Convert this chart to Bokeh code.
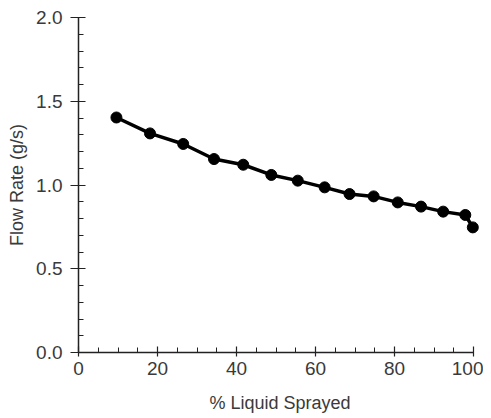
from bokeh.plotting import figure
from bokeh.models import Range1d, SingleIntervalTicker, NumeralTickFormatter
from bokeh.embed import file_html
from bokeh.resources import INLINE

# Data
pct_sprayed = [9.6, 18.1, 26.5, 34.3, 41.7, 48.8, 55.5, 62.3, 68.6, 74.7, 80.8, 86.7, 92.3, 97.9, 99.8]
flow_rate = [1.403, 1.308, 1.245, 1.155, 1.121, 1.060, 1.026, 0.986, 0.946, 0.932, 0.896, 0.871, 0.841, 0.821, 0.747]

x_label = "% Liquid Sprayed"
y_label = "Flow Rate (g/s)"

FONT = "Liberation Sans"
TXT = "#3a3a3a"

p = figure(
    output_backend="svg", toolbar_location=None,
    frame_width=403, frame_height=335,
    min_border_left=78, min_border_right=2, min_border_top=17, min_border_bottom=62,
    x_range=Range1d(0, 102), y_range=Range1d(0, 2.0),
)
p.outline_line_color = None
p.xgrid.visible = False
p.ygrid.visible = False
p.background_fill_color = "white"
p.border_fill_color = "white"

p.line(pct_sprayed, flow_rate, line_color="black", line_width=3.5)
p.scatter(pct_sprayed, flow_rate, size=11, fill_color="black", line_color="black")

xa = p.xaxis[0]
xa.ticker = SingleIntervalTicker(interval=20, num_minor_ticks=4)
xa.bounds = (0, 100)
xa.axis_label = x_label
ya = p.yaxis[0]
ya.ticker = SingleIntervalTicker(interval=0.5, num_minor_ticks=5)
ya.formatter = NumeralTickFormatter(format="0.0")
ya.axis_label = y_label

for ax in (xa, ya):
    ax.axis_line_color = "#222222"
    ax.axis_line_width = 1.5
    ax.major_tick_line_color = "#222222"
    ax.minor_tick_line_color = "#222222"
    ax.major_tick_line_width = 1.2
    ax.minor_tick_line_width = 1
    ax.major_label_text_font = FONT
    ax.major_label_text_font_size = "19px"
    ax.major_label_text_color = TXT
    ax.axis_label_text_font = FONT
    ax.axis_label_text_font_size = "18px"
    ax.axis_label_text_font_style = "normal"
    ax.axis_label_text_color = TXT

xa.major_tick_in = 6
xa.major_tick_out = 4
xa.minor_tick_in = 5
xa.minor_tick_out = 0
xa.major_label_standoff = 5
xa.axis_label_standoff = 15

ya.major_tick_in = 7
ya.major_tick_out = 8
ya.minor_tick_in = 5
ya.minor_tick_out = 0
ya.major_label_standoff = 8
ya.axis_label_standoff = 6

open("out.html", "w").write(file_html(p, INLINE))
